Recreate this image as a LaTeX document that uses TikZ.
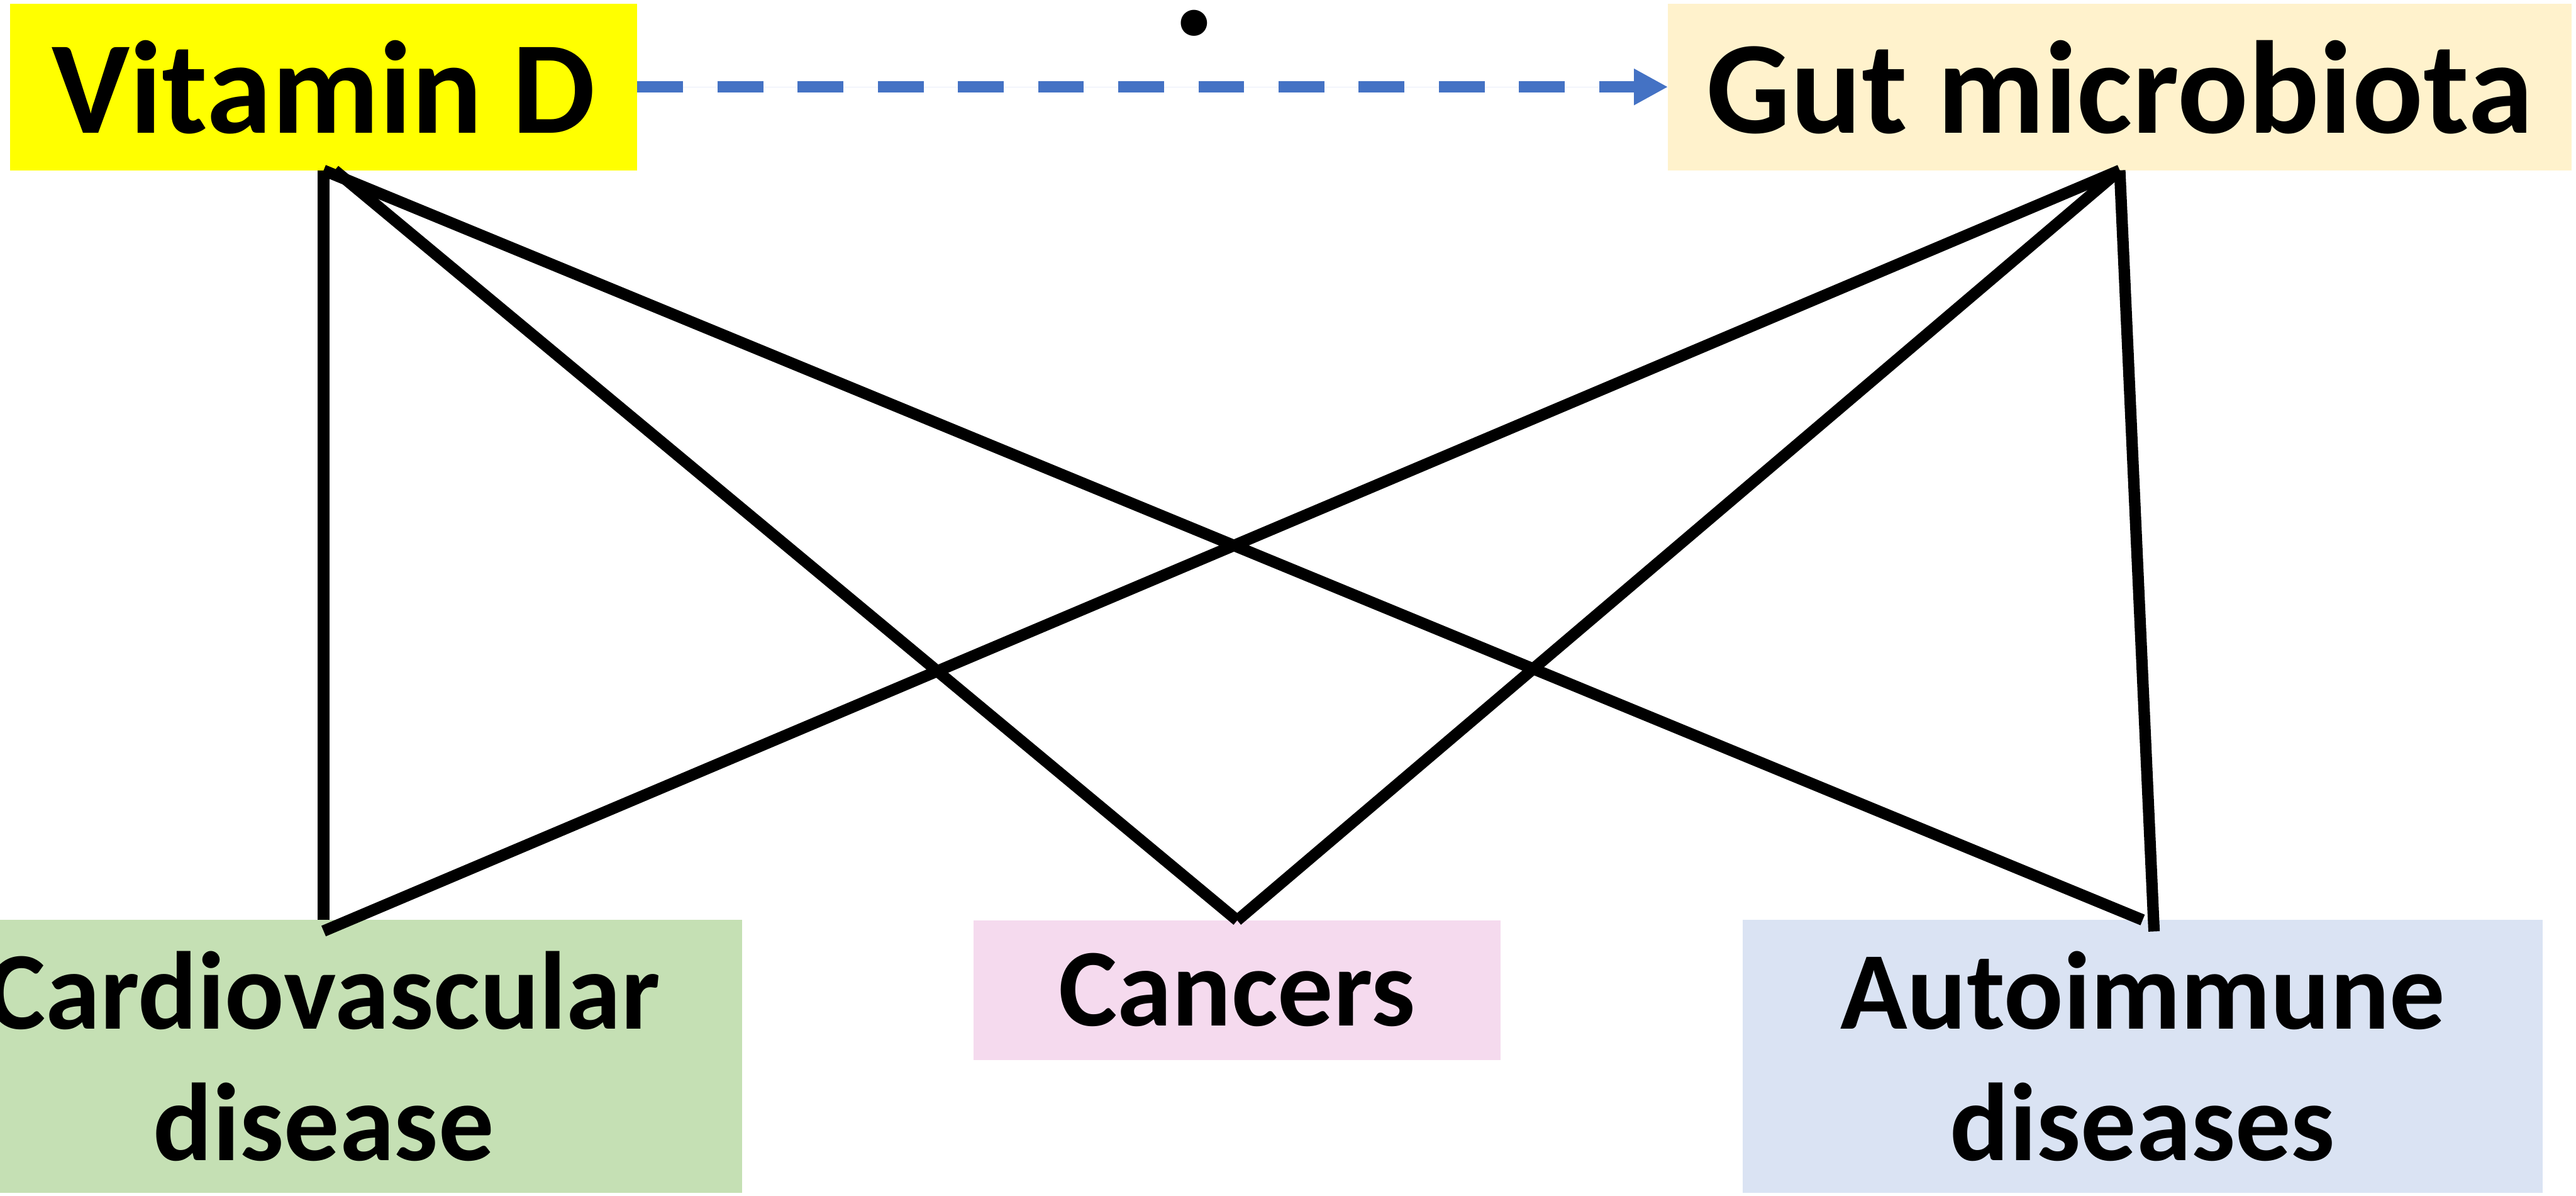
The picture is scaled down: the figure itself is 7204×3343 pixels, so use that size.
\documentclass[tikz,border=0pt]{standalone}
\usepackage{fontspec}
\setmainfont{Carlito}
\usetikzlibrary{arrows.meta}
\definecolor{vdyellow}{HTML}{FFFF00}
\definecolor{gmcream}{HTML}{FFF2CC}
\definecolor{cvgreen}{HTML}{C5E0B4}
\definecolor{capink}{HTML}{F5DAEE}
\definecolor{aiblue}{HTML}{DAE3F3}
\definecolor{arrowblue}{HTML}{4472C4}
\begin{document}
\begin{tikzpicture}[x=0.01cm,y=-0.01cm,
  box/.style={rectangle, inner sep=0pt, outer sep=0pt, align=center},
  bigtext/.style={font=\fontsize{105pt}{126pt}\selectfont\bfseries},
  smalltext/.style={font=\fontsize{88pt}{104.7pt}\selectfont\bfseries},
  link/.style={line width=0.32cm, line cap=butt, draw=black},
  dasharrow/.style={line width=0.32cm, draw=arrowblue, fill=arrowblue,
    dash pattern=on 1.28cm off 0.96cm,
    -{Triangle[length=0.95cm,width=0.95cm]}}
]
\useasboundingbox (0,0) rectangle (7204,3343);
\clip (0,0) rectangle (7204,3343);

\node[box, bigtext, fill=vdyellow, minimum width=17.54cm, minimum height=4.66cm] (vd) at (905,243) {Vitamin D};
\node[box, bigtext, fill=gmcream, minimum width=25.25cm, minimum height=4.66cm] (gm) at (5928,243) {Gut microbiota};
\node[box, smalltext, fill=cvgreen, minimum width=23.38cm, minimum height=7.62cm] (cv) at (905,2953) {Cardiovascular\\disease};
\node[box, smalltext, fill=capink, minimum width=14.73cm, minimum height=3.90cm] (ca) at (3460,2768) {Cancers};
\node[box, smalltext, fill=aiblue, minimum width=22.35cm, minimum height=7.62cm] (ai) at (5992,2953) {Autoimmune\\diseases};

\node[box, font=\fontsize{140pt}{140pt}\selectfont\bfseries] (dot) at (3339,64) {.};

\draw[dasharrow] (vd.east) -- (gm.west);

\draw[link] (vd.south) -- (vd.south |- cv.north);
\draw[link] ([xshift=0.31cm]vd.south) -- (ca.north);
\draw[link] (vd.south) -- (ai.north);
\draw[link] (gm.south) -- ([yshift=-0.31cm]vd.south |- cv.north);
\draw[link] (gm.south) -- (ca.north);
\draw[link] (gm.south) -- ([xshift=0.32cm,yshift=-0.32cm]ai.north);
\end{tikzpicture}
\end{document}
